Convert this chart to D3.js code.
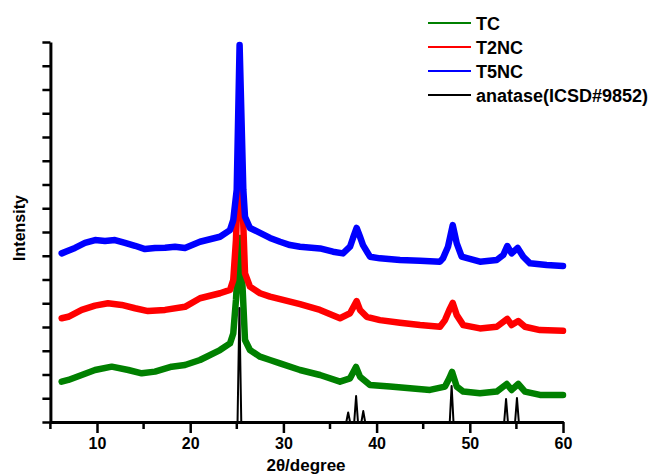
<!DOCTYPE html>
<html>
<head>
<meta charset="utf-8">
<script src="https://cdn.jsdelivr.net/npm/d3@7"></script>
<style>
  body { margin: 0; background: #fff; }
  text { font-family: "Liberation Sans", Arial, sans-serif; font-weight: bold; }
</style>
</head>
<body>
<div id="chart"></div>
<script>
// 2theta (degree) / intensity (counts) readings per pattern
var tcTheta = [6.21, 6.92, 8.36, 9.79, 11.58, 13.36, 14.80, 16.22, 18.01, 19.44, 21.05, 23.20, 24.27, 24.62, 24.91, 25.16, 25.34, 25.63, 25.88, 26.41, 27.49, 28.56, 29.64, 31.78, 33.93, 36.07, 37.15, 37.79, 38.22, 39.29, 41.44, 43.58, 45.73, 47.34, 47.80, 48.10, 48.60, 49.30, 51.09, 52.89, 53.96, 54.49, 55.20, 55.92, 57.53, 60.00];
var tcInt = [170, 177, 198, 219, 233, 219, 205, 212, 233, 240, 261, 303, 331, 373, 514, 696, 775, 556, 345, 303, 275, 261, 247, 219, 198, 170, 184, 232, 191, 156, 149, 142, 135, 149, 184, 211, 149, 128, 121, 128, 160, 135, 160, 128, 114, 114];

var t2ncTheta = [6.21, 6.92, 8.36, 9.79, 11.18, 12.65, 14.08, 15.47, 17.30, 19.44, 21.05, 23.20, 24.27, 24.62, 24.91, 25.16, 25.34, 25.63, 25.88, 26.41, 27.49, 28.56, 29.64, 31.78, 33.93, 36.07, 37.15, 37.86, 38.22, 38.94, 40.36, 42.51, 44.66, 46.80, 47.34, 47.80, 48.17, 48.60, 49.30, 51.09, 52.89, 54.02, 54.49, 55.20, 55.92, 57.53, 60.00];
var t2ncInt = [437, 443, 472, 490, 500, 493, 479, 467, 472, 485, 521, 542, 556, 598, 766, 1047, 1132, 906, 626, 570, 542, 528, 517, 496, 472, 437, 458, 509, 472, 443, 429, 418, 408, 401, 429, 472, 501, 450, 408, 394, 401, 434, 408, 425, 401, 387, 384];

var t5ncTheta = [6.21, 7.64, 8.71, 9.79, 10.86, 11.93, 13.00, 14.08, 15.15, 16.22, 17.30, 18.37, 19.44, 21.05, 23.20, 24.27, 24.62, 24.99, 25.30, 25.70, 25.88, 26.41, 27.49, 28.56, 29.64, 30.71, 31.78, 33.93, 35.32, 36.39, 37.15, 37.47, 37.86, 38.22, 38.54, 39.29, 40.36, 42.51, 44.66, 46.80, 47.12, 47.66, 48.17, 48.60, 49.13, 51.09, 52.89, 53.59, 54.02, 54.49, 55.14, 55.74, 56.46, 58.25, 60.00];
var t5ncInt = [710, 733, 754, 766, 762, 766, 754, 742, 728, 733, 734, 738, 733, 759, 780, 808, 850, 977, 1587, 977, 864, 817, 796, 775, 759, 745, 738, 731, 717, 710, 738, 775, 817, 780, 745, 696, 689, 682, 679, 675, 689, 738, 829, 752, 696, 675, 682, 703, 741, 710, 733, 696, 668, 661, 657];

// anatase reference (ICSD#9852) reflections
var refTheta = [25.28, 36.95, 37.80, 38.57, 48.05, 53.89, 55.06];
var refInt = [480, 40, 109, 46, 152, 97, 101];

var legendNames = ["TC", "T2NC", "T5NC", "anatase(ICSD#9852)"];
var legendColors = ["#008000", "#ff0000", "#0000ff", "#000000"];
var xTicks = [10, 20, 30, 40, 50, 60];

var W = 651, H = 475;
var svg = d3.select("#chart").append("svg").attr("width", W).attr("height", H);

var x = d3.scaleLinear().domain([5, 60]).range([50.4, 563]);
var y = d3.scaleLinear().domain([0, 1600]).range([422, 42]);

function zip(a, b) { return a.map(function (d, i) { return [d, b[i]]; }); }

// reference pattern as narrow sticks
var refPts = [[6, 0]];
refTheta.forEach(function (t, i) {
  refPts.push([t - 0.2, 0], [t, refInt[i]], [t + 0.2, 0]);
});
refPts.push([60, 0]);

var line = d3.line().x(function (d) { return x(d[0]); }).y(function (d) { return y(d[1]); });

var series = [
  { pts: zip(tcTheta, tcInt), color: legendColors[0], w: 6.5 },
  { pts: zip(t2ncTheta, t2ncInt), color: legendColors[1], w: 6.5 },
  { pts: zip(t5ncTheta, t5ncInt), color: legendColors[2], w: 6.5 },
  { pts: refPts, color: legendColors[3], w: 2 }
];

svg.selectAll(".pattern")
  .data(series)
  .join("path")
  .attr("class", "pattern")
  .attr("d", function (d) { return line(d.pts); })
  .attr("fill", "none")
  .attr("stroke", function (d) { return d.color; })
  .attr("stroke-width", function (d) { return d.w; })
  .attr("stroke-linejoin", "round")
  .attr("stroke-linecap", "round");

// ── Axes ────────────────────────────────────────────────
var xMinor = d3.range(5, 61, 5).filter(function (v) { return xTicks.indexOf(v) < 0; });

var gx = svg.append("g").attr("transform", "translate(0,422)");
gx.call(d3.axisBottom(x).tickValues(xTicks).tickSize(11).tickSizeOuter(0).tickPadding(5));
gx.selectAll(".minor")
  .data(xMinor)
  .join("line")
  .attr("class", "minor")
  .attr("x1", function (d) { return x(d); })
  .attr("x2", function (d) { return x(d); })
  .attr("y1", 0).attr("y2", 7)
  .attr("stroke", "#000").attr("stroke-width", 2.5);
gx.selectAll(".tick text").attr("font-size", 16).attr("fill", "#000");

var gy = svg.append("g").attr("transform", "translate(50.4,0)");
gy.call(d3.axisLeft(y).tickValues(d3.range(0, 1601, 100)).tickSize(8).tickSizeOuter(0).tickFormat(""));

svg.selectAll(".domain").attr("stroke", "#000").attr("stroke-width", 3);
svg.selectAll(".tick line").attr("stroke", "#000").attr("stroke-width", 2.5);

svg.append("text")
  .attr("x", 306).attr("y", 471)
  .attr("text-anchor", "middle")
  .attr("font-size", 17)
  .text("2θ/degree");

svg.append("text")
  .attr("transform", "translate(25,228) rotate(-90)")
  .attr("text-anchor", "middle")
  .attr("font-size", 16)
  .text("Intensity");

// ── Legend ──────────────────────────────────────────────
var lg = svg.selectAll(".legend")
  .data(legendNames)
  .join("g")
  .attr("class", "legend")
  .attr("transform", function (d, i) { return "translate(428," + (23 + i * 24) + ")"; });

lg.append("line")
  .attr("x1", 0).attr("x2", 43)
  .attr("stroke", function (d, i) { return legendColors[i]; })
  .attr("stroke-width", 2);

lg.append("text")
  .attr("x", 48).attr("y", 6.5)
  .attr("font-size", 18)
  .text(function (d) { return d; });
</script>
</body>
</html>
